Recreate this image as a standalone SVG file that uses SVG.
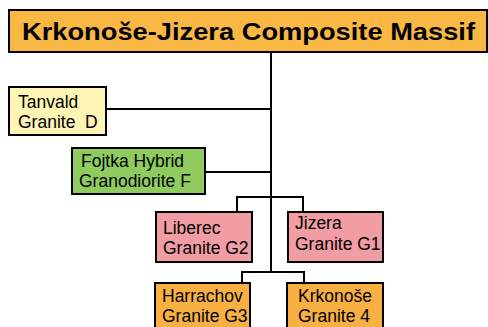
<svg xmlns="http://www.w3.org/2000/svg" width="488" height="327" viewBox="0 0 488 327">
<style>
.box{stroke:#000;stroke-width:2}
.t{font-family:"Liberation Sans",Arial,sans-serif;font-size:17.5px;fill:#000}
.title{font-family:"Liberation Sans",Arial,sans-serif;font-size:24px;font-weight:bold;fill:#000}
.c{stroke:#000;stroke-width:2;fill:none}
</style>
<rect width="488" height="327" fill="#fff"/>
<g id="connectors">
<path class="c" d="M271 52 V272"/>
<path class="c" d="M106 109 H271"/>
<path class="c" d="M205 172 H271"/>
<path class="c" d="M237 212 V197 H303 V212"/>
<path class="c" d="M242 283 V272 H304 V283"/>
</g>
<g id="title">
<rect class="box" x="9" y="10" width="478" height="42" fill="#F9B744"/>
<text class="title" x="22" y="40" textLength="453" lengthAdjust="spacingAndGlyphs">Krkonoše-Jizera Composite Massif</text>
</g>
<g id="tanvald">
<rect class="box" x="9" y="87" width="97" height="48" fill="#FFF6B5"/>
<text class="t" x="18" y="108">Tanvald</text>
<text class="t" x="18" y="128">Granite<tspan x="85">D</tspan></text>
</g>
<g id="fojtka">
<rect class="box" x="72" y="148" width="133" height="46" fill="#8FCB5F"/>
<text class="t" x="81" y="167">Fojtka Hybrid</text>
<text class="t" x="79" y="187">Granodiorite F</text>
</g>
<g id="liberec">
<rect class="box" x="156" y="212" width="96" height="50" fill="#F29CA4"/>
<text class="t" x="163" y="234">Liberec</text>
<text class="t" x="163" y="254">Granite G2</text>
</g>
<g id="jizera">
<rect class="box" x="288" y="212" width="95" height="50" fill="#F29CA4"/>
<text class="t" x="295" y="229">Jizera</text>
<text class="t" x="295" y="250">Granite G1</text>
</g>
<g id="harrachov">
<rect class="box" x="155" y="283" width="95" height="50" fill="#F8B042"/>
<text class="t" x="162" y="302">Harrachov</text>
<text class="t" x="162" y="322">Granite G3</text>
</g>
<g id="krkonose">
<rect class="box" x="287" y="283" width="96" height="50" fill="#F8B042"/>
<text class="t" x="298" y="302">Krkonoše</text>
<text class="t" x="298" y="322">Granite 4</text>
</g>
</svg>
